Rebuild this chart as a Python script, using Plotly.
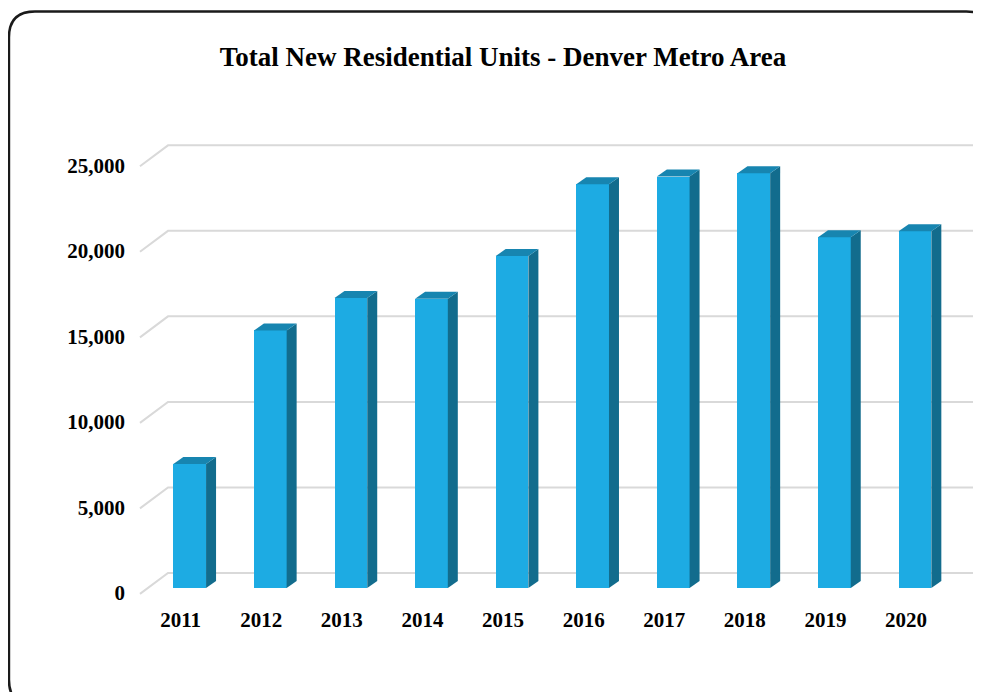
import plotly.graph_objects as go

# ---- data ----
years = ["2011", "2012", "2013", "2014", "2015", "2016", "2017", "2018", "2019", "2020"]
units = [7250, 15050, 16950, 16900, 19400, 23600, 24050, 24250, 20500, 20850]
y_ticks = [0, 5000, 10000, 15000, 20000, 25000]
y_tick_labels = ["0", "5,000", "10,000", "15,000", "20,000", "25,000"]

# ---- style / pseudo-3D geometry (axis units) ----
BAR_W = 0.406
DEPTH_X = 0.124
DEPTH_Y = 409
GRID_FRONT_X, GRID_BACK_X = -0.617, -0.269
GRID_FRONT_DY, GRID_BACK_DY = -350, 876
X_RANGE = [-0.716, 9.72]
Y_RANGE = [-1000, 28000]
FRONT = "#1DABE3"
SIDE = "#126C8D"
TOP = "#1785B0"
GRID = "#D9D9D9"
FONT = "Liberation Serif, Times New Roman, serif"

# page body has an 8px margin, so the figure is laid out 8px smaller
W, H = 973, 684
ML, MR, MT, MB = 124, 8.3, 100.6, 86.9

fig = go.Figure()

shapes = []
# gridlines (left side-wall slant + back wall), drawn below the bars
for t in y_ticks:
    shapes.append(dict(
        type="path", xref="x", yref="y", layer="below",
        path=(f"M {GRID_FRONT_X},{t + GRID_FRONT_DY} L {GRID_BACK_X},{t + GRID_BACK_DY} "
              f"L {X_RANGE[1]},{t + GRID_BACK_DY}"),
        line=dict(color=GRID, width=2)))

xs = list(range(len(years)))

# front faces
fig.add_trace(go.Bar(x=xs, y=units, width=BAR_W, marker=dict(color=FRONT, line=dict(width=0)),
                     showlegend=False, hovertext=years, hoverinfo="text+y"))

# side and top faces
for i, v in zip(xs, units):
    r = i + BAR_W / 2
    l = i - BAR_W / 2
    fig.add_trace(go.Scatter(
        x=[r, r + DEPTH_X, r + DEPTH_X, r, r],
        y=[0, DEPTH_Y, v + DEPTH_Y, v, 0],
        fill="toself", fillcolor=SIDE, mode="lines", line=dict(width=0, color=SIDE),
        hoverinfo="skip", showlegend=False))
    fig.add_trace(go.Scatter(
        x=[l, r, r + DEPTH_X, l + DEPTH_X, l],
        y=[v, v, v + DEPTH_Y, v + DEPTH_Y, v],
        fill="toself", fillcolor=TOP, mode="lines", line=dict(width=0, color=TOP),
        hoverinfo="skip", showlegend=False))

# rounded frame, in paper coords
pw = W - ML - MR
ph = H - MT - MB
def px(x):
    return (x - ML) / pw
def py(y):
    return 1 - (y - MT) / ph
x0, x1, y0, y1, rad = 1, 984, 3, 698, 26
path = (f"M {px(x0+rad)},{py(y0)} L {px(x1-rad)},{py(y0)} Q {px(x1)},{py(y0)} {px(x1)},{py(y0+rad)} "
        f"L {px(x1)},{py(y1-rad)} Q {px(x1)},{py(y1)} {px(x1-rad)},{py(y1)} "
        f"L {px(x0+rad)},{py(y1)} Q {px(x0)},{py(y1)} {px(x0)},{py(y1-rad)} "
        f"L {px(x0)},{py(y0+rad)} Q {px(x0)},{py(y0)} {px(x0+rad)},{py(y0)} Z")
shapes.append(dict(type="path", xref="paper", yref="paper", path=path,
                   line=dict(color="#1a1a1a", width=2.5), fillcolor="rgba(0,0,0,0)", layer="above"))

fig.update_layout(
    width=W, height=H,
    margin=dict(l=ML, r=MR, t=MT, b=MB, pad=0),
    paper_bgcolor="white", plot_bgcolor="white",
    bargap=0,
    title=dict(text="<b>Total New Residential Units - Denver Metro Area</b>",
               x=495 / W, xref="container", xanchor="center",
               y=1 - 49 / H, yref="container", yanchor="middle",
               font=dict(family=FONT, size=27, color="black")),
    xaxis=dict(range=X_RANGE, tickvals=xs, ticktext=[f"<b>{y}</b>" for y in years],
               showgrid=False, zeroline=False, showline=False, ticks="",
               ticklabelshift=-9,
               tickfont=dict(family=FONT, size=21, color="black")),
    yaxis=dict(range=Y_RANGE, tickvals=y_ticks, ticktext=[f"<b>{t}</b>" for t in y_tick_labels],
               showgrid=False, zeroline=False, showline=False, ticks="",
               ticklabelshift=5, ticklabelstandoff=6,
               tickfont=dict(family=FONT, size=21, color="black")),
    shapes=shapes,
    showlegend=False,
)

fig.write_html("out.html")
